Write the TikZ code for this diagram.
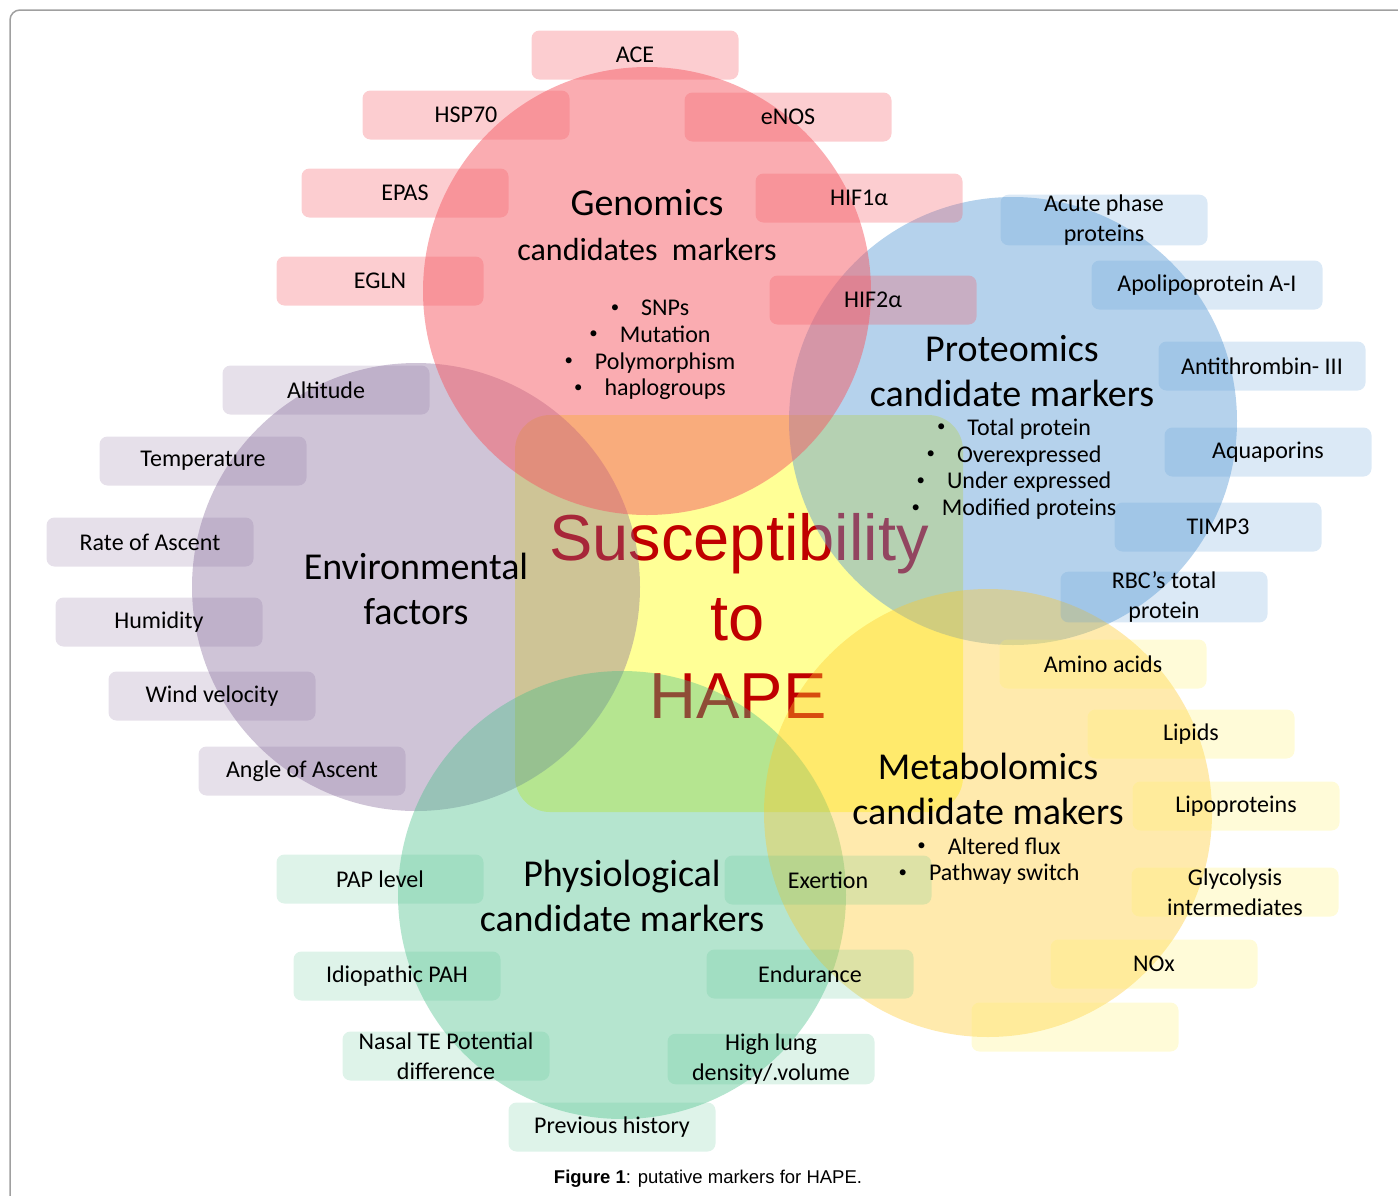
\documentclass[tikz,border=0pt]{standalone}
\usepackage{fontspec}
\setmainfont{Carlito}
\newfontfamily\arialfont{Liberation Sans}

\definecolor{genred}{RGB}{245,90,100}
\definecolor{protblue}{RGB}{91,155,213}
\definecolor{envpurple}{RGB}{128,100,150}
\definecolor{physgreen}{RGB}{70,190,135}
\definecolor{metayellow}{RGB}{255,200,40}
\definecolor{metatag}{RGB}{255,240,100}
\definecolor{coreyellow}{RGB}{255,255,150}
\definecolor{hapered}{RGB}{192,0,0}
\definecolor{framegray}{RGB}{160,160,160}

\tikzset{
    ring/.style={circle, minimum size=448, inner sep=0},
    tag/.style={rounded corners=8, minimum width=207, minimum height=49, inner sep=0,
        align=center, text opacity=1, font=\fontsize{24}{30}\selectfont},
    redtag/.style={tag, fill=genred, fill opacity=0.3},
    bluetag/.style={tag, fill=protblue, fill opacity=0.22},
    purpletag/.style={tag, fill=envpurple, fill opacity=0.2},
    greentag/.style={tag, fill=physgreen, fill opacity=0.18},
    yellowtag/.style={tag, fill=metatag, fill opacity=0.25},
    title/.style={align=center, font=\fontsize{38}{45}\selectfont},
    items/.style={align=center, inner sep=0, font=\fontsize{24}{26.8}\selectfont},
    hape/.style={anchor=base, inner sep=0, text=hapered, font=\arialfont\fontsize{65}{78}\selectfont},
}
\newcommand{\itm}[1]{\raisebox{0.3ex}{\scalebox{0.7}{\textbullet}}\hspace{22pt}#1}

\begin{document}
\begin{tikzpicture}[x=1pt, y=-1pt]
        \useasboundingbox (0,0) rectangle (1398,1195);
        \draw[framegray, line width=1.5, rounded corners=10] (10,1210) -- (10,10) -- (1410,10);

        \node[rounded corners=35, minimum width=448, minimum height=397, fill=coreyellow] (core) at (739,613.5) {};
        \node[hape] (susc) at (739,560) {Susceptibility};
        \node[hape] (to) at (738,640) {to};
        \node[hape] (hape) at (738,718) {HAPE};

        \node[ring, fill=envpurple, fill opacity=0.38] (env) at (416,587) {};
        \node[ring, fill=protblue, fill opacity=0.45] (prot) at (1013,421) {};
        \node[ring, fill=genred, fill opacity=0.5] (gen) at (647,291) {};
        \node[ring, fill=physgreen, fill opacity=0.4] (phys) at (622,895) {};
        \node[ring, fill=metayellow, fill opacity=0.38] (meta) at (988,813) {};

        \node[redtag] (ace) at (635,55) {ACE};
        \node[redtag] (hsp) at (466,115) {HSP70};
        \node[redtag] (enos) at (788,117) {eNOS};
        \node[redtag] (epas) at (405,193) {EPAS};
        \node[redtag] (hifone) at (859,198) {HIF1α};
        \node[redtag] (egln) at (380,281) {EGLN};
        \node[redtag] (hiftwo) at (873,300) {HIF2α};

        \node[bluetag] (acute) at (1104,220) {Acute phase\\proteins};
        \node[bluetag, minimum width=231] (apo) at (1207,285) {Apolipoprotein A-I};
        \node[bluetag] (anti) at (1262,366) {Antithrombin- III};
        \node[bluetag] (aqua) at (1268,452) {Aquaporins};
        \node[bluetag] (timp) at (1218,527) {TIMP3};
        \node[bluetag] (rbc) at (1164,597) {RBC’s total\\protein};

        \node[purpletag] (alt) at (326,390) {Altitude};
        \node[purpletag] (temp) at (203,461) {Temperature};
        \node[purpletag] (rate) at (150,542) {Rate of Ascent};
        \node[purpletag] (hum) at (159,622) {Humidity};
        \node[purpletag] (wind) at (212,696) {Wind velocity};
        \node[purpletag] (angle) at (302,771) {Angle of Ascent};

        \node[yellowtag] (amino) at (1103,664) {Amino acids};
        \node[yellowtag] (lipids) at (1191,734) {Lipids};
        \node[yellowtag] (lipo) at (1236,806) {Lipoproteins};
        \node[yellowtag] (glyco) at (1235,892) {Glycolysis\\intermediates};
        \node[yellowtag] (nox) at (1154,964) {NOx};
        \node[yellowtag] (blank) at (1075,1027) {};

        \node[greentag] (pap) at (380,879) {PAP level};
        \node[greentag] (exer) at (828,880) {Exertion};
        \node[greentag] (ipah) at (397,976) {Idiopathic PAH};
        \node[greentag] (endu) at (810,974) {Endurance};
        \node[greentag] (nasal) at (446,1056) {Nasal TE Potential\\difference};
        \node[greentag] (lung) at (771,1059) {High lung\\density/.volume};
        \node[greentag] (prev) at (612,1127) {Previous history};

        \node[title] (gentitle) at (647,225) {Genomics\\\fontsize{32}{38}\selectfont candidates\ \ markers};
        \node[items] (genlist) at (650,350) {\itm{SNPs}\\\itm{Mutation}\\\itm{Polymorphism}\\\itm{haplogroups}};
        \node[title] (prottitle) at (1012,371) {Proteomics\\candidate markers};
        \node[items] (protlist) at (1014,469) {\itm{Total protein}\\\itm{Overexpressed}\\\itm{Under expressed}\\\itm{Modified proteins}};
        \node[title] (envtitle) at (416,589) {Environmental\\factors};
        \node[title] (metatitle) at (988,789) {Metabolomics\\candidate makers};
        \node[items] (metalist) at (989,861) {\itm{Altered flux}\\\itm{Pathway switch}};
        \node[title] (phystitle) at (622,896) {Physiological\\candidate markers};

        \node[font=\arialfont\fontsize{18.5}{22}\selectfont] (caption) at (708,1179) {\textbf{Figure 1}: putative markers for HAPE.};

    \end{tikzpicture}
\end{document}
